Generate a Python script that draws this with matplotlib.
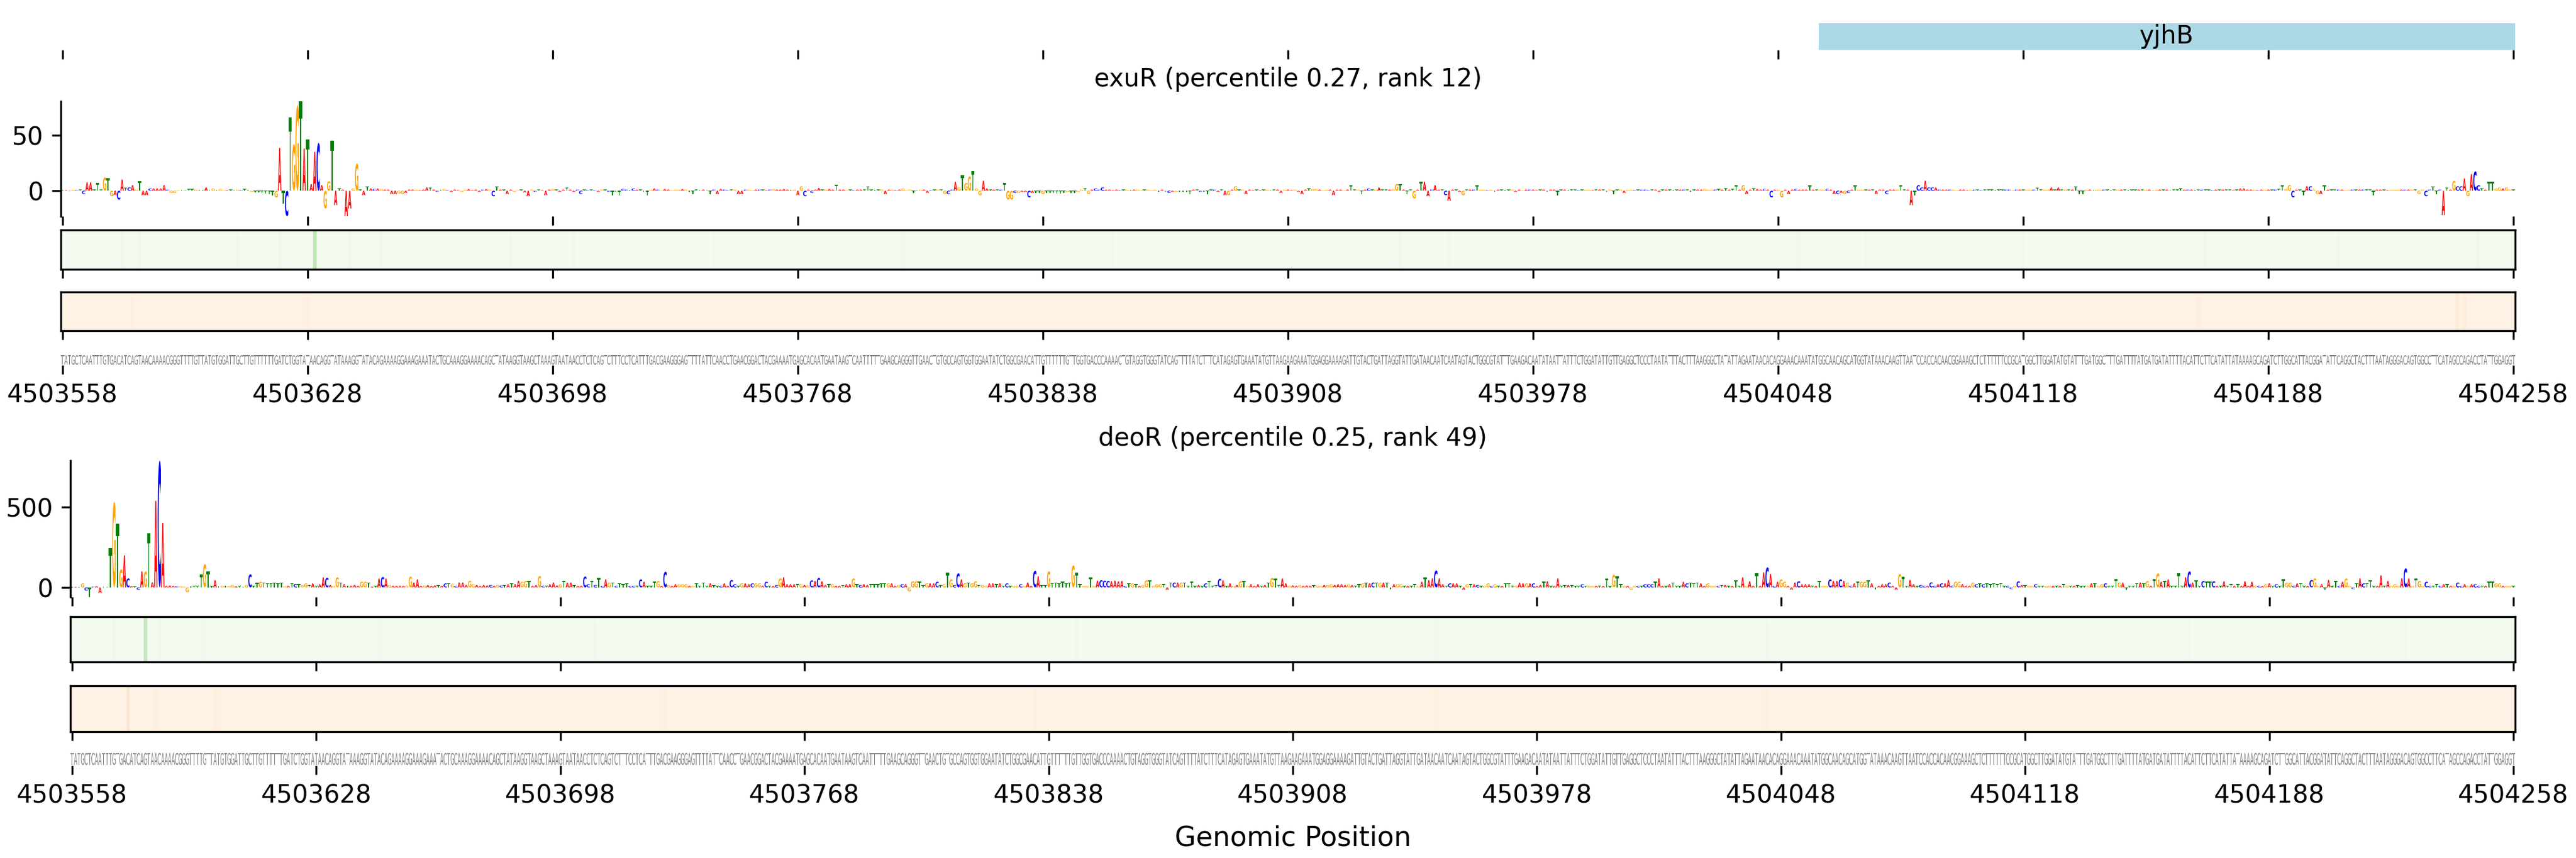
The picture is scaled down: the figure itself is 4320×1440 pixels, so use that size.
import numpy as np
import matplotlib
matplotlib.use("Agg")
import matplotlib.pyplot as plt
from matplotlib.textpath import TextPath
from matplotlib.font_manager import FontProperties
from matplotlib.patches import PathPatch, Rectangle
from matplotlib.transforms import Affine2D
from matplotlib.path import Path

plt.rcParams['font.family'] = ['DejaVu Sans']

# ---------------- data ----------------
START = 4503558
END = 4504258
tick_positions = list(range(START, END + 1, 70))

seq_parts = [
    "TATGCTCAATTTGTGACATCAGTAACAAAACGGGTTTTGTTATGTGGATTGCTTGTTTTTTGATCTGGTATAACAGGTATAAAGGTATACAGAAAAGGAA"
    "AGAAATACTGCAAAGGAAAACAGCTATAAGGTAAGCTAAAGTAATAACCTCTCAGTCTTTCCTCATTTGACGAAGGGAGTTTTATTCAACCTGAACGGAC"
    "TACG",
    "AAAATGAGCACAATGAATAAGTCAATTTTTGAAGCAGGGTTGAACTGTGCCAGTGGTGGAATATCTGGCGAACATTGTTTTTTGTTGGTGACCCAAAACT"
    "GTAGGTGGGTATCAGTTTTATCTTTCATAGAGTGAAATAT",
    "GTTAAGAAGAAATGGAGGAAAAGATTGTACTGATTAGGTATTGATAACAATCAATAGTACTGGCGTATTTGAAGACAATATAATTATTTCTGGATA"
    "TTGTTGAGGCTCCCTAATATTTACTTTAAGGGCTATATTAGAATA",
    "ACACAGGAAACAAATATGGCAACAGCATGGTATAAACAAGTTAATCCACCACAACGGAAAGCTCTTTTTTCCGCATGGCTTGGATATGTATTTGATGGCTTTGA",
    "TTTTATGATGATATTTTACATTCTTCATATTATAAAAGCAGATCTTGGCATTACGGATATTCAGGCTACTTTAATAGGGACAGTGGCCTTCATAGCCAGACCTATTGGAGGT",
]
sequence = "".join(seq_parts)

exur_values = [
    0.5, 0.5, -0.5, 1, 0.5, 1, -3, 7.5, 7.5, 1, 7, 1, 12, 11.5, -5, -4, -8, 10, 3, 3, 5, 1, 8.5, -4, -4,
    2, 2, 2, 2, 5, 1, -2, -2, 0.5, 0.5, 0.5, 1.5, 1.5, 1, 0.5, 0.5, 3, 0.5, 2, 0.5, 1.5, 0.5, 0.5, 1, 0.5,
    1, 0.5, 1.5, 0.5, -1, -1.5, -1.5, -2, -2.5, -3, -4, -6, 38.5, -12, -23, 66, 42, 77, 80.5, 38, 46, 6, 35, 43, 5,
    -16, 8.5, 45, -13, 2, 1, -23, -16, 2, 24.5, 1, -4, 4, 2, 1.5, 2, 1.5, 1, 1, -3, -3, -2.5, -3, -2, 1,
    1, 1, 0.5, 1, 3, 3, 1, -1, 0.5, 1.5, 0.5, -1, 1, 0.5, -1, 1, 1.5, 0.5, 1, -1, 1, 1.5, 1, -5, 4,
    1, 1, -3, 1, -1, 0.5, 1, -1.5, -5, 1, -1, 1, 0.5, -4, 1, 1.5, 1, -1, 1, 3, 1, -1, 1, -3, 1,
    0.5, 1, 0.5, -1, 1, 1, -1, -4, -1, -4, 1.5, 1, 0.5, 2, 1, 1, -1, -4, 1, 2, 1, 0.5, 1.5, 1, 0.5,
    1, 1, 1.5, 1, -1, -3, 1, 0.5, 1, 0.5, -3, 1, -3, 1.5, 1, 0.5, 1, 1, -3, -3, 1, 1, 0.5, 1, 1,
    1, 0.5, 1, 1.5, 1, 1, 1.5, 1, 0.5, 1, -4, 4, -5, 1, -2, 1, 2.5, 1, 1, 1.5, 1, 5.5, 1, 1, 0.5,
    1, 0.5, 1, 1, 1, 4, 1, 0.5, 1, 1, -3, 1, 1, 0.5, 1, 2, 0.5, 1, -2, 0.5, 1, 1, -2, 0.5, 1,
    1, 1, -3, -3, 1, 8, 3, 14, 7, 13, 18, 2, -4, 9, 2, 1, 1, 1, 1, 7, -8, -8, -2, -2, -1,
    -1, -6, -2, -2, -2, -3, -2, -2, -2, -2.5, -2.5, -2, -1, -2, -2, -1, 1, 2, -3, 1, 2, 1, 3, 1, 1,
    0.5, 1, 0.5, 1, 1, 0.5, 1, 1, 0.5, 1, 1, 0.5, 1, -1, 1, -1, -2, -1, -1, -1, -1, -1, -3, 1, 1,
    -1, -1, -3, 1, 1, -1, 1, -4, -4, 1, 4, 1, 1, -3, 1, 0.5, 1, 0.5, 1, 1, 0.5, 1, 1, -2, 1,
    1, 0.5, 1, -1, -3, 1, 2, 1.5, 1.5, 1, 0.5, 1, 1, -4, 1, 1, 0.5, 1, 5, 1, 1, -3, 1, 2, 1,
    1, 3, 1, 1, 1, 1.5, 6, 6, 1, -3, 1, -7, 1, 8, 8, -5, 1, 5, 1, 1, -4, -9, 1, 1, -1,
    -4, 1, 1, 1, 5, 1, 1, 0.5, 1, -1, 1, 1, 0.5, 1, 1, -1, 1, 0.5, 1, 1, 1, 0.5, 1, 1, -1,
    1, 1, -4, 1, 1, 0.5, 1, 1, 0.5, 1, 1, 1, 0.5, 1, 1, 1, -1, 1, -3, 1, 1, -2, 1, 1, 0.5,
    1, 1, 1, 0.5, 1, 1, -1, 1, 1, 1, 0.5, 1, 1, 1, 1, -1, 1, 1, 1, 1.5, 1, 1, 1, 1.5, 1,
    2, 1, 1.5, 5, 1, 5, -3, 1, 2, 1.5, 1, 1.5, 1, -6, 1, 1, -6, 1, -3, 1, 1.5, 1, 1, 1, 5,
    1, 1, 1, 1, 1.5, 1, -3, -3, -2, -3, -2, 1, 5, 1, 1, 1, 1, 1, -3, 1, 1, -3, 1, 1, 1,
    5, 1, 1, -13, -4, 5, 3, 9, 3, 3, 3, 1, 1, 1, 1, 1, 0.5, 1, 1, 0.5, 1, 1, 1, 0.5, 1,
    1, 1, 0.5, 1, 1, 1, 1, 0.5, 1, 1, 1, 1, 1, 1, 3, 1, 1, 1, 3, 1, 3, 1, 1, 1, 1,
    4, -3, -3, 1, 1, 0.5, 1, 1, 1, 1, 0.5, 1, 1, 1, 1, 0.5, 1, 1, 1, 1, 1, 1, 0.5, 1, 1,
    1, 1, 0.5, 1, 1, 2, 1, 1, 1, 0.5, 1, 1, 1, 1, 0.5, 1, 1, 1, 1, 1, 0.5, 1, 2, 2, 1,
    1, 1, 0.5, 1, 1, 1, 1, 1, 1.5, 5, 1.5, 5, -6, 1, 1, -4, 4, 4, 1, -3, -3, 5, 1, 1, 1,
    1, 1, 0.5, 1, 1, 1, 1, 1, 1, 1, -4, 1, 1, 1, 0.5, 1, 1, 1, 1, 1, 1, 1, 1, -3, 1,
    -5, 1, 4, -3, 1, -22, 3, 1, 9, 4, 4, 11, -5, 15, 17.5, 5, 2, 1, 8, 8, 2, 3, 2, 3, 1,
    1,
]

deor_values = [
    3, 3, 5, 25, -20, -60, 5, 8, -35, 5, 3, 245, 534, 396, 113, 200, 56, 8, 6, -15, 100, 100, 339, 31, 540,
    791, 402, 10, 12, 10, 8, 8, 6, -30, 8, 10, 10, 80, 145, 100, 10, 44, 8, 10, 12, 10, 15, 8, 10, 5,
    15, 82, 10, 28, 35, 30, 25, 25, 30, 25, 30, 8, 10, 25, 22, 20, 15, 25, 15, 25, 10, 20, 63, 60, 15,
    10, 63, 30, 20, 12, 10, 15, 10, 35, 35, 30, 5, 10, 55, 65, 55, 15, 10, 10, 10, 10, 12, 68, 30, 50,
    10, 12, 15, 10, 12, 15, 10, 25, 25, 20, 10, 30, 30, 15, 41, 20, 15, 10, 15, 12, 15, 10, 15, 12, 15,
    20, 25, 20, 41, 35, 40, 40, 10, 15, 71, 10, 10, 20, 30, 12, 20, 41, 30, 30, 15, 10, 10, 68, 20, 40,
    15, 59, 10, 50, 30, 30, 10, 25, 20, 25, 10, 10, 10, 50, 35, 10, 10, 35, 40, 10, 98, 15, 10, 20, 20,
    20, 20, 10, 10, 25, 10, 30, 10, 25, 15, 10, 10, 25, 10, 46, 20, 10, 25, 25, 20, 25, 25, 25, 10, 35,
    10, 10, 15, 56, 63, 20, 20, 20, 20, 20, 15, 15, 44, 40, 59, 38, 15, 20, 20, 10, 10, 15, 20, 20, 56,
    20, 15, 20, 15, 20, 20, 20, 25, 25, 25, 25, 10, 15, 20, 20, -25, 38, 38, 38, 15, 25, 25, 25, 35, 15,
    20, 91, 50, 15, 88, 50, 25, 30, 25, 38, 15, 15, 10, 25, 25, 20, 25, 10, 25, 10, 10, 10, 20, 10, 30,
    10, 104, 69, 15, 15, 100, 25, 30, 25, 35, 25, 30, 138, 91, 20, 10, 10, 63, 10, 42, 45, 42, 40, 38, 42,
    38, 40, 10, 25, 25, 20, 10, 15, 44, 44, 10, 20, 20, 20, -15, 30, 30, 30, 30, 30, 10, 35, 10, 15, 10,
    25, 40, 10, 15, 54, 45, 10, 25, 10, 15, 38, 40, 10, 20, 10, 20, 10, 15, 30, 59, 54, 15, 56, 25, 10,
    12, 10, 15, 10, 12, 10, 15, 12, 10, 15, 15, 20, 15, 20, 20, 15, 20, 15, 10, 20, 25, 30, 25, 30, 30,
    30, 30, 30, -10, 20, 20, 20, 10, 10, 10, 20, 10, 35, 63, 45, 56, 106, 56, 20, 10, 25, 25, 25, 10, -15,
    20, 20, 20, 15, 10, 10, 25, 10, 20, 10, 10, 25, 25, 10, 10, 29, 25, 25, 25, 25, 10, 15, 38, 38, 10,
    10, 56, 10, 15, 15, 15, 10, 10, 20, 10, 10, 10, 10, 10, 10, 56, 10, 79, 69, 20, 10, 10, -15, 10, 10,
    10, 20, 20, 20, 35, 56, 10, 10, 20, 30, 10, 10, 35, 25, 30, 25, 30, 25, 10, 25, 10, 10, 10, 15, 15,
    10, 10, 44, 10, 63, 10, 38, 10, 88, 10, 94, 125, 84, 10, 35, 50, 35, 10, -15, 30, 38, 20, 20, 20, 10,
    10, 40, 10, 10, 50, 40, 40, 50, 40, 30, 10, 25, 35, 35, 35, 45, 25, -10, 10, 20, 20, 30, 10, -15, 84,
    65, 10, 46, 20, 10, 15, 10, 10, 31, 10, 20, 25, 25, 46, 10, 35, 35, 20, 10, 10, 30, 20, 25, 20, 25,
    20, 25, 20, 25, 10, 10, -10, 10, 38, 15, 15, 10, 10, 20, 10, 10, 10, 10, 10, 10, 10, 20, 10, 10, 10,
    15, 10, 10, 10, 25, 25, 10, 20, 25, 10, 10, 50, 30, 30, -15, 10, 10, 25, 30, 25, 40, 10, 50, 88, 35,
    40, 50, 10, 10, 88, 10, 63, 100, 30, 45, 10, 40, 35, 35, 38, 10, 10, 38, 10, 20, 10, 20, 10, 38, 10,
    35, 10, 10, 10, 20, 25, 10, 20, 10, 50, 30, 30, 10, 25, 25, 10, 10, 46, 56, 10, 20, -15, 46, 10, 40,
    10, 35, 56, 10, -10, 25, 56, 25, 25, 44, 10, 10, 75, 10, 40, 10, 20, 10, 56, 119, 56, 10, 56, 40, 10,
    35, 10, 10, 20, 10, 20, 20, 10, 10, 30, 10, 20, 10, 20, 20, 10, 10, 10, 35, 35, 25, 25, 10, 10, 10,
    10,
]

exur_title = "exuR (percentile 0.27, rank 12)"
deor_title = "deoR (percentile 0.25, rank 49)"
exur_yticks = [0, 50]
deor_yticks = [0, 500]
x_label = "Genomic Position"

gene_name = "yjhB"
gene_start = 4504060
gene_end = 4504258

# per-position strip intensities (offset from START, value); others take the base level
strip_base_green = 0.03
strip_base_orange = 0.025
exur_green_pos = [72, 17, 22, 50, 62, 82, 91, 128, 146, 186, 240, 300, 382, 396, 496, 515, 560, 612, 650, 690]
exur_green_val = [0.27, 0.06, 0.06, 0.05, 0.06, 0.06, 0.05, 0.05, 0.05, 0.05, 0.05, 0.05, 0.06, 0.05, 0.05, 0.05, 0.05, 0.05, 0.05, 0.06]
exur_orange_pos = [684, 686, 610, 70, 20]
exur_orange_val = [0.08, 0.06, 0.04, 0.04, 0.04]
deor_green_pos = [21, 12, 25, 38, 88, 150, 288, 391, 486, 607, 669]
deor_green_val = [0.25, 0.06, 0.06, 0.05, 0.05, 0.05, 0.05, 0.05, 0.05, 0.05, 0.05]
deor_orange_pos = [16, 41, 24, 170, 276, 391, 486]
deor_orange_val = [0.12, 0.07, 0.05, 0.05, 0.04, 0.04, 0.04]

base_colors = {"A": "#ff0000", "C": "#0000ff", "G": "#ffa500", "T": "#008000"}
seq_color = "#7f7f7f"

# ---------------- drawing helpers ----------------
W, H = 4320, 1440
fig = plt.figure(figsize=(14.4, 4.8), dpi=300)


def ax_at(left, top, right, bottom):
    return fig.add_axes([left / W, 1 - bottom / H, (right - left) / W, (bottom - top) / H])


_cache = {}


def glyph(ch, bold):
    key = (ch, bold)
    if key not in _cache:
        fp = FontProperties(family="DejaVu Sans", weight="bold" if bold else "normal")
        p = TextPath((0, 0), ch, size=1, prop=fp)
        ext = p.get_extents()
        v = (p.vertices - np.array([ext.x0, ext.y0])) / np.array([ext.width, ext.height])
        _cache[key] = Path(v, p.codes)
    return _cache[key]


def draw_letter(ax, ch, x, y0, h, width, color, bold=True):
    if h == 0:
        return
    path = glyph(ch, bold).transformed(Affine2D().scale(width, h).translate(x - width / 2, y0))
    ax.add_patch(PathPatch(path, facecolor=color, edgecolor="none", lw=0))


def setup_x(ax, labels=False):
    ax.set_xlim(START - 0.5, END + 0.5)
    ax.set_xticks(tick_positions)
    if labels:
        ax.set_xticklabels([str(t) for t in tick_positions], fontsize=10)
    else:
        ax.set_xticklabels([])


def logo_panel(top, bottom, left, values, title, yticks):
    ax = ax_at(left, top, 4218, bottom)
    n = min(len(values), len(sequence))
    for i in range(n):
        v = values[i]
        ch = sequence[i]
        if v >= 0:
            draw_letter(ax, ch, START + i, 0, v, 0.95, base_colors[ch])
        else:
            draw_letter(ax, ch, START + i, v, -v, 0.95, base_colors[ch])
    ax.set_ylim(min(values), max(values))
    setup_x(ax)
    ax.set_yticks(yticks)
    ax.set_yticklabels([str(t) for t in yticks], fontsize=10)
    for s in ["top", "right", "bottom"]:
        ax.spines[s].set_visible(False)
    ax.set_title(title, fontsize=10)
    return ax


def strip_panel(top, bottom, left, pos, val, base, cmap):
    ax = ax_at(left, top, 4218, bottom)
    arr = np.full(END - START + 1, base)
    for p, v in zip(pos, val):
        arr[p] = v
    ax.imshow(arr[None, :], aspect="auto", cmap=cmap, vmin=0, vmax=1,
              extent=(START - 0.5, END + 0.5, 0, 1), interpolation="nearest")
    setup_x(ax)
    ax.set_ylim(0, 1)
    ax.set_yticks([])
    return ax


def seq_panel(top, bottom, left):
    ax = ax_at(left, top, 4218, bottom)
    for i, ch in enumerate(sequence):
        draw_letter(ax, ch, START + i, 0.05, 0.88, 0.94, seq_color, bold=False)
    ax.set_ylim(0, 1)
    setup_x(ax, labels=True)
    ax.set_yticks([])
    for s in ax.spines.values():
        s.set_visible(False)
    return ax


# ---------------- gene track ----------------
gax = ax_at(102, 39, 4218, 84)
gax.add_patch(Rectangle((gene_start - 0.5, 0), gene_end - gene_start + 1, 1,
                        facecolor="#add8e6", edgecolor="none"))
gax.text((gene_start + gene_end) / 2, 0.5, gene_name, ha="center", va="center", fontsize=10)
gax.set_ylim(0, 1)
setup_x(gax)
gax.set_yticks([])
for s in gax.spines.values():
    s.set_visible(False)

# ---------------- top panel (exuR) ----------------
logo_panel(170, 363, 102, exur_values, exur_title, exur_yticks)
strip_panel(386, 452, 102, exur_green_pos, exur_green_val, strip_base_green, "Greens")
strip_panel(490, 555, 102, exur_orange_pos, exur_orange_val, strip_base_orange, "Oranges")
seq_panel(595, 613, 102)

# ---------------- bottom panel (deoR) ----------------
logo_panel(773, 1002, 118, deor_values, deor_title, deor_yticks)
strip_panel(1035, 1111, 118, deor_green_pos, deor_green_val, strip_base_green, "Greens")
strip_panel(1151, 1228, 118, deor_orange_pos, deor_orange_val, strip_base_orange, "Oranges")
seq_panel(1262, 1285, 118)

fig.text((118 + 4218) / 2 / W, 1 - 1407 / H, x_label, ha="center", va="center", fontsize=11)

fig.savefig("out.png", dpi=300)
